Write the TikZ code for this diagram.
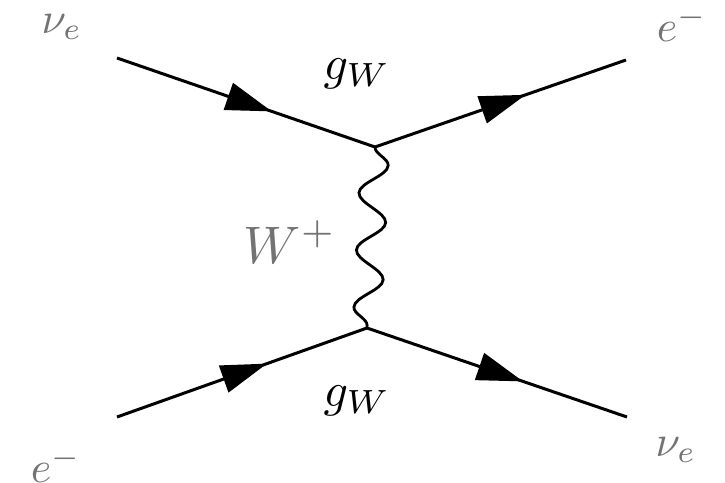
\documentclass[tikz,border=0pt]{standalone}
\usepackage{tikz}
\usetikzlibrary{arrows.meta,decorations.pathmorphing,decorations.markings}
\usetikzlibrary{positioning}
\tikzset{
  fermion/.style={line width=1.5pt, postaction={decorate},
    decoration={markings, mark=at position 0.6 with
      {\arrow{Triangle[length=23pt,width=14pt]}}}},
  boson/.style={line width=1.4pt, decorate,
    decoration={snake, amplitude=7pt, segment length=28.6pt}},
  particle/.style={text=black!55, scale=2.2},
  coupling/.style={scale=2.4}
}

\begin{document}
\begin{tikzpicture}[x=0.5pt,y=-0.5pt]
  \useasboundingbox (0,0) rectangle (725,483);
  % Place the vertices and the free ends
  \coordinate (top v) at (375,147);
  \coordinate (bot v) at (367,328);
  \coordinate (in nu) at (117,58);
  \coordinate (out e) at (626,60);
  \coordinate (in e) at (117,417);
  \coordinate (out nu) at (627,417);
  % Fermion lines
  \draw[fermion] (in nu) -- (top v);
  \draw[fermion] (top v) -- (out e);
  \draw[fermion] (in e) -- (bot v);
  \draw[fermion] (bot v) -- (out nu);
  % The W exchange
  \draw[boson] (top v) -- (bot v);
  % Particle labels
  \node[particle] (nu in) at (62,27) {$\nu_e$};
  \node[particle] (e out) at (682,24) {$e^-$};
  \node[particle] (e in) at (56,465) {$e^-$};
  \node[particle] (nu out) at (676,450) {$\nu_e$};
  \node[particle,scale=1.2] (w) at (290,242) {$W^+$};
  % Couplings at the vertices
  \node[coupling] (g top) at (357,74) {$g_W$};
  \node[coupling] (g bot) at (357,401) {$g_W$};
\end{tikzpicture}
\end{document}
